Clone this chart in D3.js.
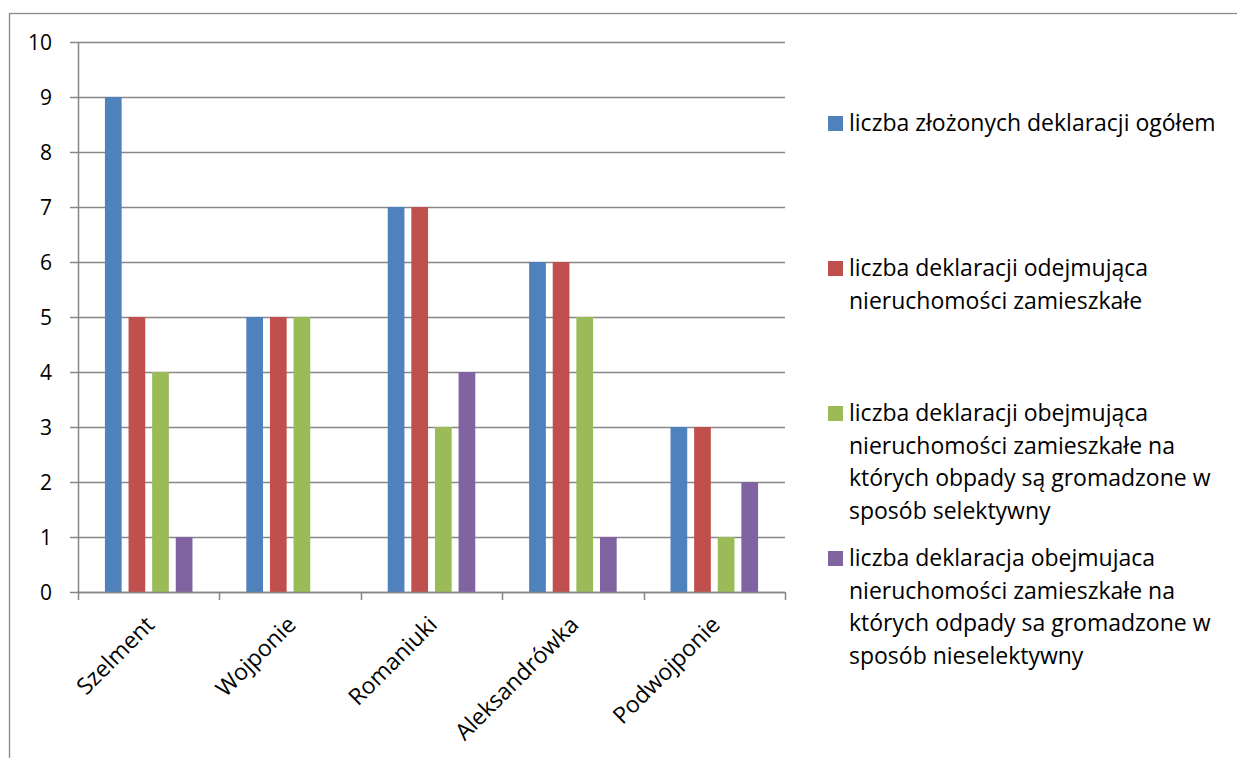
<!DOCTYPE html>
<html>
<head>
<meta charset="utf-8">
<script src="https://cdn.jsdelivr.net/npm/d3@7"></script>
<style>
  body { margin: 0; background: #fff; }
  svg { font-family: 'Open Sans', sans-serif; }
</style>
</head>
<body>
<div class="chart"></div>
<script>
const categories = ['Szelment', 'Wojponie', 'Romaniuki', 'Aleksandrówka', 'Podwojponie'];
const seriesNames = [
  'liczba złożonych deklaracji ogółem',
  'liczba deklaracji odejmująca nieruchomości zamieszkałe',
  'liczba deklaracji obejmująca nieruchomości zamieszkałe na których obpady są gromadzone w sposób selektywny',
  'liczba deklaracja obejmujaca nieruchomości zamieszkałe na których odpady sa gromadzone w sposób nieselektywny'
];
const totalDecl = [9, 5, 7, 6, 3];
const inhabitedDecl = [5, 5, 7, 6, 3];
const selectiveDecl = [4, 5, 3, 5, 1];
const nonSelectiveDecl = [1, 0, 4, 1, 2];
const yTicks = [0, 1, 2, 3, 4, 5, 6, 7, 8, 9, 10];

// legend lines as they wrap in the original
const legendLines = [
  ['liczba złożonych deklaracji ogółem'],
  ['liczba deklaracji odejmująca', 'nieruchomości zamieszkałe'],
  ['liczba deklaracji obejmująca', 'nieruchomości zamieszkałe na', 'których obpady są gromadzone w', 'sposób selektywny'],
  ['liczba deklaracja obejmujaca', 'nieruchomości zamieszkałe na', 'których odpady sa gromadzone w', 'sposób nieselektywny']
];

const colors = ['#4F81BD', '#C0504D', '#9BBB59', '#8064A2'];
const gridColor = '#878787';

const width = 1237, height = 758;

let svg = d3.select('.chart').append('svg')
  .attr('width', width)
  .attr('height', height);

// outer frame (runs off the right and bottom edges)
svg.append('rect')
  .attr('x', 9.5).attr('y', 13.5)
  .attr('width', 1400).attr('height', 900)
  .attr('fill', 'none')
  .attr('stroke', '#8a8a8a')
  .attr('stroke-width', 1.3);

const plot = { left: 78, right: 785, top: 42, bottom: 592 };

let xScale = d3.scaleBand()
  .domain(categories)
  .range([plot.left, plot.right])
  .padding(0);

let xInner = d3.scaleBand()
  .domain(d3.range(4))
  .range([0, xScale.bandwidth()])
  .paddingInner(0.292)
  .paddingOuter(1.14);

let yScale = d3.scaleLinear()
  .domain([0, 10])
  .range([plot.bottom, plot.top]);

// gridlines with left tick marks
svg.append('g')
  .selectAll('line')
  .data(yTicks)
  .enter()
  .append('line')
  .attr('x1', plot.left - 8)
  .attr('x2', plot.right)
  .attr('y1', d => Math.round(yScale(d)) + 0.5)
  .attr('y2', d => Math.round(yScale(d)) + 0.5)
  .attr('stroke', gridColor)
  .attr('stroke-width', 1.5);

// y axis labels
svg.append('g')
  .selectAll('text')
  .data(yTicks)
  .enter()
  .append('text')
  .attr('x', plot.left - 26)
  .attr('y', d => yScale(d))
  .attr('dy', '0.36em')
  .attr('text-anchor', 'end')
  .attr('font-size', 21)
  .attr('fill', '#000')
  .text(d => d);

// bars
const seriesData = [totalDecl, inhabitedDecl, selectiveDecl, nonSelectiveDecl];
const bars = [];
seriesData.forEach((vals, s) => {
  vals.forEach((v, i) => bars.push({ s: s, cat: categories[i], v: v }));
});

svg.append('g')
  .selectAll('rect')
  .data(bars.filter(d => d.v > 0))
  .enter()
  .append('rect')
  .attr('x', d => xScale(d.cat) + xInner(d.s))
  .attr('width', xInner.bandwidth())
  .attr('y', d => yScale(d.v))
  .attr('height', d => yScale(0) - yScale(d.v))
  .attr('fill', d => colors[d.s]);

// axes lines
svg.append('line')
  .attr('x1', plot.left + 0.5).attr('x2', plot.left + 0.5)
  .attr('y1', plot.top).attr('y2', plot.bottom)
  .attr('stroke', gridColor).attr('stroke-width', 1.5);

svg.append('line')
  .attr('x1', plot.left).attr('x2', plot.right)
  .attr('y1', plot.bottom + 0.5).attr('y2', plot.bottom + 0.5)
  .attr('stroke', gridColor).attr('stroke-width', 1.5);

// x ticks at category boundaries
const boundaries = categories.map(c => xScale(c)).concat([plot.right]);
svg.append('g')
  .selectAll('line')
  .data(boundaries)
  .enter()
  .append('line')
  .attr('x1', d => Math.round(d) + 0.5)
  .attr('x2', d => Math.round(d) + 0.5)
  .attr('y1', plot.bottom)
  .attr('y2', plot.bottom + 8)
  .attr('stroke', gridColor)
  .attr('stroke-width', 1.5);

// category labels, rotated
svg.append('g')
  .selectAll('text')
  .data(categories)
  .enter()
  .append('text')
  .attr('transform', d => {
    const cx = xScale(d) + xScale.bandwidth() / 2 - 5;
    return `translate(${cx},${plot.bottom + 22}) rotate(-45)`;
  })
  .attr('text-anchor', 'end')
  .attr('dy', '0.75em')
  .attr('font-size', 23)
  .attr('fill', '#000')
  .text(d => d);

// legend
const legendTop = [123, 268, 413, 558];
const lineH = 32.5;
let legend = svg.append('g');
legendLines.forEach((lines, i) => {
  legend.append('rect')
    .attr('x', 828)
    .attr('y', legendTop[i] - 7)
    .attr('width', 15)
    .attr('height', 15)
    .attr('fill', colors[i]);
  lines.forEach((ln, j) => {
    legend.append('text')
      .attr('x', 849)
      .attr('y', legendTop[i] + j * lineH)
      .attr('dy', '0.35em')
      .attr('font-size', 23)
      .attr('fill', '#000')
      .text(ln);
  });
});
</script>
</body>
</html>
